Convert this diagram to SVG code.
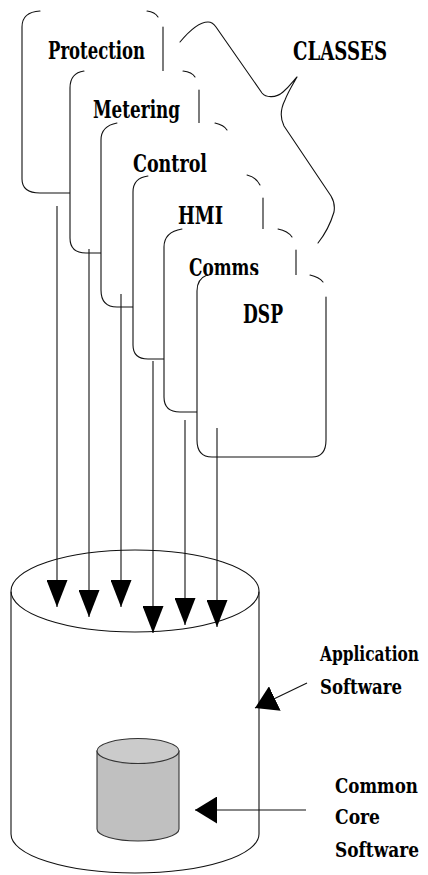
<svg xmlns="http://www.w3.org/2000/svg" width="428" height="875" viewBox="0 0 428 875">
<style>
.ln{fill:none;stroke:#111;stroke-width:1.1;stroke-linejoin:round;stroke-linecap:round}
.bg{fill:#fff;stroke:none}
.t{font-family:"DejaVu Serif","Liberation Serif",serif;font-weight:bold;font-stretch:condensed;fill:#000}
.con{fill:none;stroke:#111;stroke-width:1.1}
</style>
<defs>
<marker id="ah" viewBox="0 0 27 21" refX="27" refY="10.5" markerWidth="27" markerHeight="21" markerUnits="userSpaceOnUse" orient="auto">
<path d="M0,0 L27,10.5 L0,21 Z" fill="#000"/>
</marker>
<marker id="ah2" viewBox="0 0 22 27" refX="22" refY="13.5" markerWidth="22" markerHeight="27" markerUnits="userSpaceOnUse" orient="auto">
<path d="M0,0 L22,13.5 L0,27 Z" fill="#000"/>
</marker>
</defs>
<rect width="428" height="875" fill="#fff"/>

<g id="classes">
<path class="ln" d="M180,42 C190,30 200,22 208,22 C212,22 214,24 216,27 L262,93 C266,98 276,98 283,92 C290,86 294,80 297,77 C293,84 288,92 285,100 C281,108 280,118 284,126 L331,196 C334,201 335,206 334,212 C331,222 326,233 318,243"/>
<text class="t" x="293" y="60" font-size="26" textLength="94" lengthAdjust="spacingAndGlyphs">CLASSES</text>
</g>

<g id="protection">
<rect class="bg" x="22" y="11" width="141" height="182" rx="18" ry="15"/>
<path class="ln" d="M40,11 Q22,12 22,27 L22,179 Q22,193 40,193 L145,193"/>
<path class="ln" d="M147,11 Q155,12 158,17 M163,27 L163,193"/>
<text class="t" x="48" y="59" font-size="23.5" textLength="97" lengthAdjust="spacingAndGlyphs">Protection</text>
</g>

<g id="metering">
<rect class="bg" x="70" y="71" width="129" height="182" rx="18" ry="15"/>
<path class="ln" d="M84,71 Q70,73 70,88 L70,238 Q70,253 86,253 L181,253"/>
<path class="ln" d="M183,71 Q192,72 195,77 M199,90 L199,253"/>
<text class="t" x="93" y="118" font-size="24.5" textLength="87" lengthAdjust="spacingAndGlyphs">Metering</text>
</g>

<g id="control">
<rect class="bg" x="101" y="123" width="131" height="184" rx="18" ry="15"/>
<path class="ln" d="M117,123 Q101,126 101,140 L101,290 Q101,307 117,307 L214,307"/>
<path class="ln" d="M215,123 Q224,125 227,130"/>
<text class="t" x="133" y="172" font-size="23.5" textLength="74" lengthAdjust="spacingAndGlyphs">Control</text>
</g>

<g id="hmi">
<rect class="bg" x="133" y="175" width="130" height="184" rx="18" ry="15"/>
<path class="ln" d="M148,176 Q133,178 133,192 L133,345 Q133,359 148,359 L245,359"/>
<path class="ln" d="M247,175 Q256,177 260,185 M263,198 L263,359"/>
<text class="t" x="178" y="224" font-size="23.5" textLength="45" lengthAdjust="spacingAndGlyphs">HMI</text>
</g>

<g id="comms">
<rect class="bg" x="164" y="229" width="132" height="183" rx="18" ry="15"/>
<path class="ln" d="M182,229 Q164,232 164,247 L164,397 Q164,412 180,412 L278,412"/>
<path class="ln" d="M278,229 Q288,231 292,237 M296,250 L296,412"/>
<text class="t" x="189" y="276" font-size="24.5" textLength="70" lengthAdjust="spacingAndGlyphs">Comms</text>
</g>

<g id="dsp">
<rect class="bg" x="197" y="275" width="129" height="182" rx="16" ry="16"/>
<path class="ln" d="M207,275 Q197,279 197,291 L197,440 Q197,457 212,457 L312,457 Q326,457 326,440 L326,297"/>
<path class="ln" d="M310,275 Q319,277 323,282"/>
<text class="t" x="243" y="323" font-size="26" textLength="40" lengthAdjust="spacingAndGlyphs">DSP</text>
</g>

<g id="app-software">
<path d="M11,592 L11,834 A124,39 0 0,0 259,834 L259,592 Z" fill="#fff" stroke="none"/>
<path class="ln" d="M11,592 L11,834 A124,39 0 0,0 259,834 L259,592"/>
<ellipse class="ln" cx="135" cy="591" rx="124" ry="41" fill="#fff"/>
</g>

<g id="core-software">
<path d="M97,751 L97,829 A41,12 0 0,0 179,829 L179,751 Z" fill="#c0c0c0" stroke="#333" stroke-width="1.1"/>
<ellipse cx="138" cy="751" rx="41" ry="12.5" fill="#cbcbcb" stroke="#333" stroke-width="1.1"/>
</g>

<g id="labels">
<text class="t" transform="translate(320,661) scale(0.73,1)" x="0" y="0" font-size="21" textLength="135.6" lengthAdjust="spacingAndGlyphs">Application</text>
<text class="t" x="320" y="694" font-size="21" textLength="82" lengthAdjust="spacingAndGlyphs">Software</text>
<text class="t" x="335" y="793" font-size="21" textLength="83" lengthAdjust="spacingAndGlyphs">Common</text>
<text class="t" x="335" y="824" font-size="21" textLength="45" lengthAdjust="spacingAndGlyphs">Core</text>
<text class="t" x="335" y="857" font-size="21" textLength="84" lengthAdjust="spacingAndGlyphs">Software</text>
</g>

<g id="connectors">
<line class="con" x1="57" y1="206" x2="57" y2="607" marker-end="url(#ah)"/>
<line class="con" x1="89" y1="249" x2="89" y2="617" marker-end="url(#ah)"/>
<line class="con" x1="121" y1="294" x2="121" y2="607" marker-end="url(#ah)"/>
<line class="con" x1="153" y1="361" x2="153" y2="633" marker-end="url(#ah)"/>
<line class="con" x1="185" y1="420" x2="185" y2="625" marker-end="url(#ah)"/>
<line class="con" x1="217" y1="428" x2="217" y2="627" marker-end="url(#ah)"/>
<line class="con" x1="307" y1="683" x2="255" y2="708" marker-end="url(#ah2)"/>
<line class="con" x1="306" y1="810" x2="195" y2="810" marker-end="url(#ah2)"/>
</g>
</svg>
